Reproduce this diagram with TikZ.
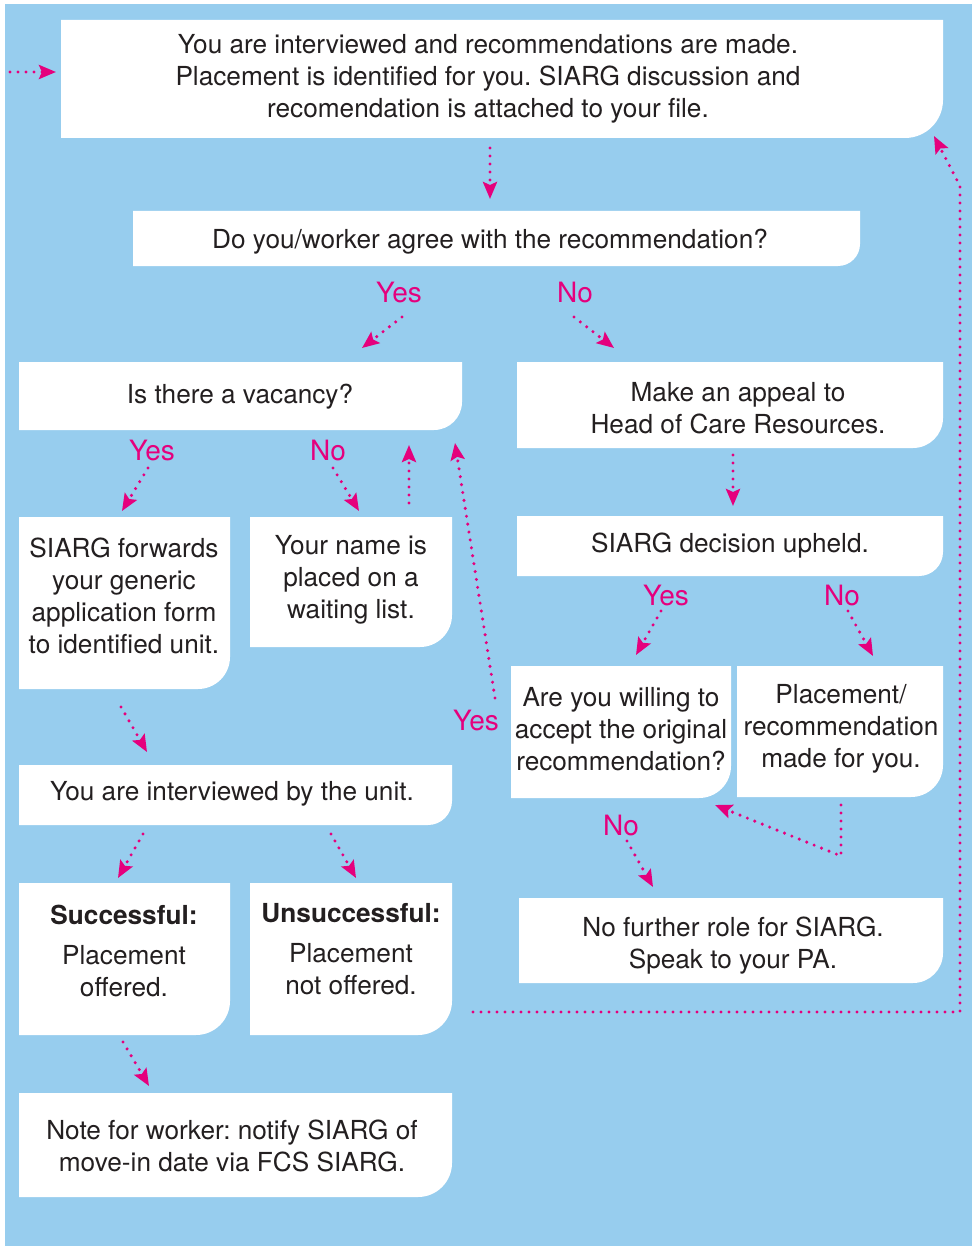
\documentclass[tikz,border=0pt]{standalone}
\usepackage{fontspec}
\setmainfont{TeX Gyre Heros}
\usetikzlibrary{arrows.meta}
\definecolor{bgblue}{RGB}{151,205,238}
\definecolor{pinkc}{RGB}{229,0,125}
\definecolor{txt}{RGB}{35,31,32}
\newcommand{\wbox}[5]{\fill[white] (#1,#2) -- (#3,#2) -- (#3,#4-#5) arc[start angle=0,end angle=-90,radius=#5pt] -- (#1,#4) -- cycle;}
\frenchspacing
\begin{document}
\begin{tikzpicture}[x=1pt,y=-1pt,
 txtnode/.style={align=center, text=txt, font=\fontsize{26.2}{32}\selectfont, inner sep=0pt, yshift=-2pt},
 lbl/.style={text=pinkc, font=\fontsize{28}{32}\selectfont, inner sep=0pt},
 dotline/.style={pinkc, line width=3.4pt, dash pattern=on 0pt off 8pt, line cap=round},
 dotarrow/.style={dotline, -{Stealth[length=17pt,width=14pt,inset=3pt]}}]
\useasboundingbox (0,0) rectangle (977,1249);
\fill[bgblue] (5,4) rectangle (972,1246);
% boxes
\wbox{61}{20}{943}{138}{38}
\wbox{133}{211}{860}{266}{22}
\wbox{19}{362}{462}{430}{28}
\wbox{517}{362}{943}{448}{30}
\wbox{19}{517}{230}{689}{32}
\wbox{250}{517}{452}{647}{32}
\wbox{517}{516}{943}{576}{24}
\wbox{511}{666}{731}{798}{32}
\wbox{737}{666}{943}{797}{32}
\wbox{19}{765}{452}{825}{24}
\wbox{19}{883}{230}{1035}{34}
\wbox{250}{883}{452}{1035}{34}
\wbox{519}{898}{943}{983}{30}
\wbox{19}{1093}{452}{1197}{34}
% texts
\node[txtnode] (interview) at (488,77) {You are interviewed and recommendations are made.\\Placement is identified for you. SIARG discussion and\\recomendation is attached to your file.};
\node[txtnode] (agree) at (490,240) {Do you/worker agree with the recommendation?};
\node[txtnode] (vacancy) at (240,395) {Is there a vacancy?};
\node[txtnode] (appeal) at (738,406) {Make an appeal to\\Head of Care Resources.};
\node[txtnode] (forwards) at (124,594) {SIARG forwards\\your generic\\application form\\to identified unit.};
\node[txtnode] (waiting) at (351,578) {Your name is\\placed on a\\waiting list.};
\node[txtnode] (upheld) at (730,544) {SIARG decision upheld.};
\node[txtnode] (willing) at (621,727) {Are you willing to\\accept the original\\recommendation?};
\node[txtnode] (made) at (841,727) {Placement/\\recommendation\\made for you.};
\node[txtnode] (unit) at (232,792) {You are interviewed by the unit.};
\node[txtnode] (success) at (124,949) {\textbf{Successful:}\\[8pt]Placement\\offered.};
\node[txtnode] (unsuccess) at (351,947) {\textbf{Unsuccessful:}\\[8pt]Placement\\not offered.};
\node[txtnode] (nofurther) at (733,944) {No further role for SIARG.\\Speak to your PA.};
\node[txtnode] (note) at (232,1144) {Note for worker: notify SIARG of\\move-in date via FCS SIARG.};
% labels
\node[lbl] (yes1) at (399,293) {Yes};
\node[lbl] (no1) at (575,293) {No};
\node[lbl] (yes2) at (152,451) {Yes};
\node[lbl] (no2) at (328,451) {No};
\node[lbl] (yes3) at (666,595) {Yes};
\node[lbl] (no3) at (842,595) {No};
\node[lbl] (yes4) at (476,720) {Yes};
\node[lbl] (no4) at (621,825) {No};
% connector coordinates
\coordinate (inS) at (10,72);   \coordinate (inE) at (56,72);
\coordinate (a1s) at (490,148); \coordinate (a1e) at (490,199);
\coordinate (a2s) at (402,317); \coordinate (a2e) at (362,348);
\coordinate (a3s) at (574,317); \coordinate (a3e) at (614,348);
\coordinate (a4s) at (148,468); \coordinate (a4e) at (122,511);
\coordinate (a5s) at (333,468); \coordinate (a5e) at (359,511);
\coordinate (a6s) at (409,503); \coordinate (a6e) at (409,445);
\coordinate (a7s) at (495,698); \coordinate (a7e) at (455,443);
\coordinate (a8s) at (733,455); \coordinate (a8e) at (733,506);
\coordinate (a9s) at (661,611); \coordinate (a9e) at (636,655);
\coordinate (a10s) at (848,611); \coordinate (a10e) at (873,656);
\coordinate (a11s) at (841,805); \coordinate (a11m) at (841,856); \coordinate (a11e) at (715,805);
\coordinate (a12s) at (627,841); \coordinate (a12e) at (653,887);
\coordinate (a13s) at (121,707); \coordinate (a13e) at (147,752);
\coordinate (a14s) at (143,834); \coordinate (a14e) at (118,878);
\coordinate (a15s) at (331,834); \coordinate (a15e) at (356,878);
\coordinate (a16s) at (123,1042); \coordinate (a16e) at (149,1086);
\coordinate (rS) at (473,1012); \coordinate (rA) at (960,1012); \coordinate (rB) at (960,186); \coordinate (rE) at (934,136);
% connectors
\draw[dotarrow] (inS) -- (inE);
\draw[dotarrow] (a1s) -- (a1e);
\draw[dotarrow] (a2s) -- (a2e);
\draw[dotarrow] (a3s) -- (a3e);
\draw[dotarrow] (a4s) -- (a4e);
\draw[dotarrow] (a5s) -- (a5e);
\draw[dotarrow] (a6s) -- (a6e);
\draw[dotarrow] (a7s) -- (a7e);
\draw[dotarrow] (a8s) -- (a8e);
\draw[dotarrow] (a9s) -- (a9e);
\draw[dotarrow] (a10s) -- (a10e);
\draw[dotarrow] (a11s) -- (a11m) -- (a11e);
\draw[dotarrow] (a12s) -- (a12e);
\draw[dotarrow] (a13s) -- (a13e);
\draw[dotarrow] (a14s) -- (a14e);
\draw[dotarrow] (a15s) -- (a15e);
\draw[dotarrow] (a16s) -- (a16e);
\draw[dotarrow] (rS) -- (rA) -- (rB) -- (rE);
\end{tikzpicture}
\end{document}
